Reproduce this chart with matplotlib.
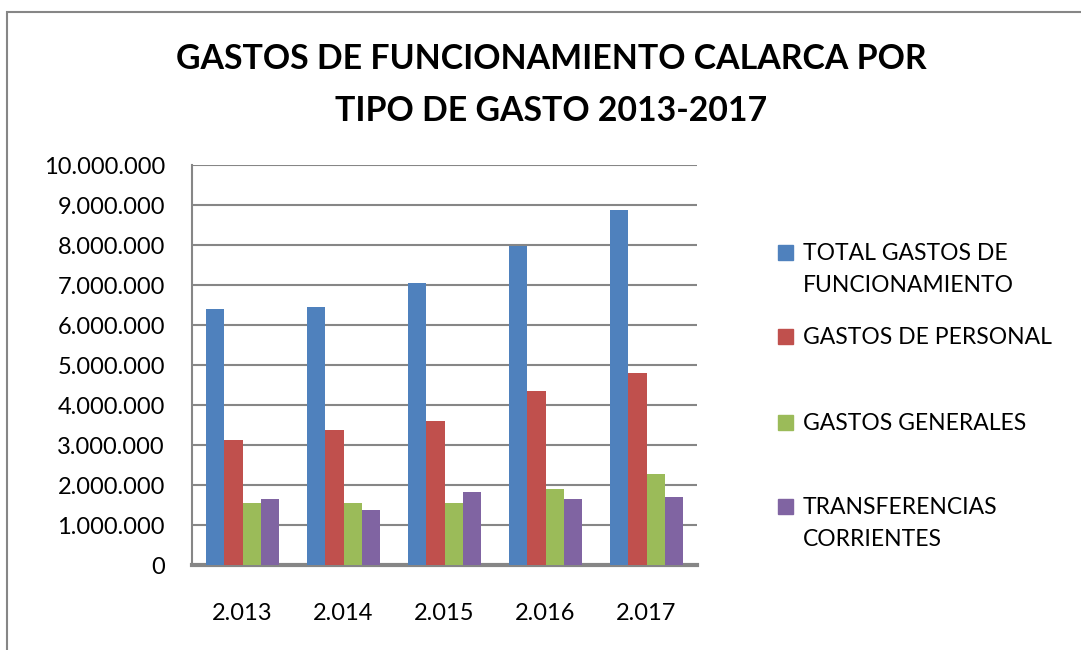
import matplotlib
matplotlib.use("Agg")
import matplotlib.pyplot as plt
from matplotlib.patches import Rectangle
from matplotlib.ticker import FuncFormatter, MultipleLocator
import numpy as np

years = ["2.013", "2.014", "2.015", "2.016", "2.017"]
series_names = ["TOTAL GASTOS DE\nFUNCIONAMIENTO", "GASTOS DE PERSONAL",
                "GASTOS GENERALES", "TRANSFERENCIAS\nCORRIENTES"]
total = [6390000, 6460000, 7040000, 7975000, 8875000]
personal = [3125000, 3375000, 3600000, 4350000, 4810000]
generales = [1540000, 1540000, 1540000, 1910000, 2275000]
transferencias = [1650000, 1380000, 1820000, 1650000, 1700000]
colors = ["#4F81BD", "#C0504D", "#9BBB59", "#8064A2"]
title = "GASTOS DE FUNCIONAMIENTO CALARCA POR\nTIPO DE GASTO 2013-2017"

plt.rcParams['font.family'] = ['Lato', 'DejaVu Sans']

W, H = 1081, 650
fig = plt.figure(figsize=(W / 100, H / 100), dpi=100)
ax = fig.add_axes([192 / W, 1 - 565 / H, (697 - 192) / W, (565 - 165) / H])

data = [total, personal, generales, transferencias]
x = np.arange(len(years))
bw = 1 / 5.5
for i, (vals, c) in enumerate(zip(data, colors)):
    ax.bar(x + (i - 1.5) * bw, vals, width=bw, color=c, zorder=3)

ax.set_xlim(-0.5, len(years) - 0.5)
ax.set_ylim(0, 10000000)
ax.yaxis.set_major_locator(MultipleLocator(1000000))
ax.yaxis.set_major_formatter(FuncFormatter(lambda v, p: f"{int(round(v)):,}".replace(",", ".")))
ax.set_xticks(x)
ax.set_xticklabels(years)
ax.grid(axis='y', color="#868686", linewidth=1.5, zorder=0)
for s in ["top", "right"]:
    ax.spines[s].set_visible(False)
ax.spines["left"].set_color("#868686")
ax.spines["left"].set_linewidth(1.5)
ax.spines["bottom"].set_color("#868686")
ax.spines["bottom"].set_linewidth(3)
ax.tick_params(axis='y', length=0, pad=19.5, labelsize=17, labelcolor="black")
ax.tick_params(axis='x', length=0, pad=27, labelsize=17, labelcolor="black")

fig.text(551 / W, 1 - 85 / H, title, ha="center", va="center", fontsize=24.4,
         fontweight="bold", linespacing=1.74)

# outer chart frame (left and top visible)
fig.add_artist(Rectangle((7 / W, -0.1), 1.2, (1 - 12 / H) + 0.1, transform=fig.transFigure,
                         fill=False, edgecolor="#868686", linewidth=1.5))

# legend
leg_y = [252, 336, 422, 506]
for name, c, yy in zip(series_names, colors, leg_y):
    fig.add_artist(Rectangle((778 / W, 1 - (yy + 7.5) / H), 15 / W, 15 / H,
                             transform=fig.transFigure, color=c))
    fig.text(803 / W, 1 - (yy - 9) / H, name, ha="left", va="top", fontsize=16.5,
             linespacing=1.62)

fig.savefig("out.png", dpi=100)
